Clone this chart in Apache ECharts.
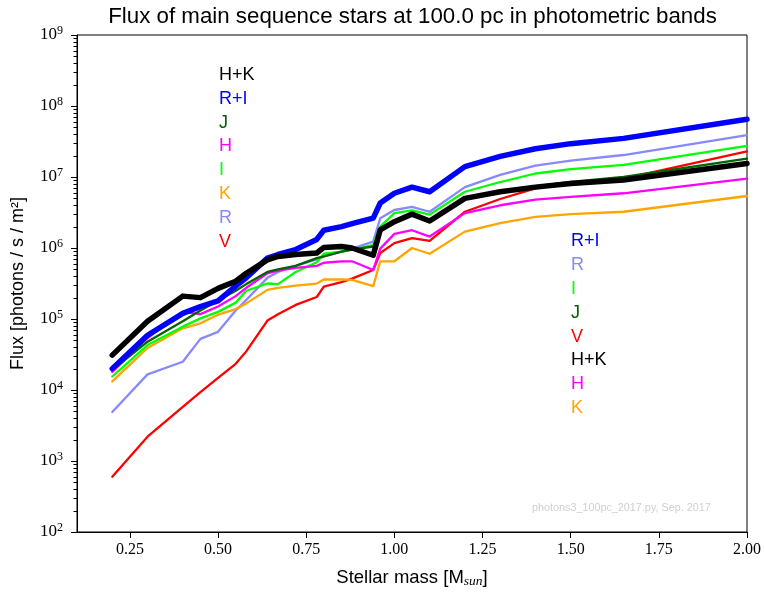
<!DOCTYPE html>
<html><head><meta charset="utf-8">
<script src="https://cdn.jsdelivr.net/npm/echarts@6/dist/echarts.min.js"></script>
<style>html,body{margin:0;padding:0;background:#fff}#c{width:764px;height:594px}</style>
</head><body><div id="c"></div>
<script>
// Stellar mass [M_sun]
const mass = [0.2, 0.3, 0.4, 0.45, 0.5, 0.55, 0.58, 0.64, 0.67, 0.72, 0.78, 0.8, 0.85, 0.88, 0.94, 0.96, 1.0, 1.05, 1.1, 1.2, 1.3, 1.4, 1.5, 1.65, 2.0];
// Flux [photons / s / m^2] per band
const fluxHK = [3.1e4, 9.3e4, 2.1e5, 2.0e5, 2.7e5, 3.4e5, 4.4e5, 6.8e5, 7.6e5, 8.1e5, 8.5e5, 1.02e6, 1.05e6, 1.0e6, 7.9e5, 1.8e6, 2.35e6, 3.0e6, 2.4e6, 5.0e6, 6.2e6, 7.2e6, 8.1e6, 9.1e6, 1.55e7];
const fluxRI = [2.0e4, 5.9e4, 1.2e5, 1.5e5, 1.8e5, 2.9e5, 3.8e5, 7.2e5, 8.1e5, 9.5e5, 1.32e6, 1.78e6, 2.0e6, 2.2e6, 2.63e6, 4.3e6, 5.9e6, 7.2e6, 6.2e6, 1.4e7, 1.95e7, 2.5e7, 2.95e7, 3.5e7, 6.5e7];
const fluxJ  = [1.9e4, 4.8e4, 9.3e4, 1.32e5, 1.82e5, 2.5e5, 3.1e5, 4.6e5, 5.0e5, 5.6e5, 7.2e5, 7.6e5, 8.9e5, 9.5e5, 1.05e6, 1.78e6, 2.34e6, 3.0e6, 2.4e6, 5.0e6, 6.3e6, 7.4e6, 8.5e6, 1.0e7, 1.82e7];
const fluxH  = [1.8e4, 5.4e4, 1.26e5, 1.17e5, 1.5e5, 2.1e5, 2.75e5, 4.4e5, 4.8e5, 5.25e5, 5.6e5, 6.2e5, 6.5e5, 6.5e5, 4.9e5, 9.8e5, 1.58e6, 1.78e6, 1.45e6, 3.1e6, 4.0e6, 4.8e6, 5.25e6, 5.9e6, 9.5e6];
const fluxI  = [1.55e4, 4.3e4, 7.8e4, 1.02e5, 1.26e5, 1.7e5, 2.5e5, 3.16e5, 3.1e5, 4.6e5, 6.3e5, 8.3e5, 8.9e5, 9.5e5, 1.1e6, 2.0e6, 3.1e6, 3.4e6, 2.95e6, 6.2e6, 8.5e6, 1.12e7, 1.29e7, 1.48e7, 2.75e7];
const fluxK  = [1.32e4, 3.9e4, 7.4e4, 8.7e4, 1.15e5, 1.38e5, 1.66e5, 2.57e5, 2.75e5, 2.95e5, 3.16e5, 3.6e5, 3.6e5, 3.55e5, 2.9e5, 6.5e5, 6.5e5, 1.0e6, 8.3e5, 1.7e6, 2.24e6, 2.75e6, 3.0e6, 3.24e6, 5.4e6];
const fluxR  = [4.9e3, 1.66e4, 2.5e4, 5.25e4, 6.6e4, 1.32e5, 1.86e5, 3.8e5, 4.6e5, 5.6e5, 6.9e5, 7.6e5, 8.9e5, 9.8e5, 1.23e6, 2.63e6, 3.43e6, 3.8e6, 3.24e6, 7.2e6, 1.07e7, 1.45e7, 1.7e7, 2.04e7, 3.9e7];
const fluxV  = [6.0e2, 2.2e3, 5.8e3, 9.3e3, 1.48e4, 2.34e4, 3.5e4, 9.5e4, 1.17e5, 1.58e5, 2.04e5, 2.85e5, 3.3e5, 3.7e5, 4.9e5, 8.5e5, 1.17e6, 1.38e6, 1.26e6, 3.24e6, 4.9e6, 6.9e6, 8.1e6, 9.5e6, 2.3e7];

const xTicks = [0.25, 0.5, 0.75, 1.0, 1.25, 1.5, 1.75, 2.0];
const yDecades = [1e2, 1e3, 1e4, 1e5, 1e6, 1e7, 1e8];
const yMinorMantissas = [2, 3, 4, 5, 6, 7, 8, 9];
const labelsLeft  = ['H+K', 'R+I', 'J', 'H', 'I', 'K', 'R', 'V'];
const labelsRight = ['R+I', 'R', 'I', 'J', 'V', 'H+K', 'H', 'K'];
const titleText = 'Flux of main sequence stars at 100.0 pc in photometric bands';
const footText = 'photons3_100pc_2017.py, Sep. 2017';

const bands = {
  'V':   {data: fluxV,  color: '#ff0000', w: 2.3},
  'R':   {data: fluxR,  color: '#8888ff', w: 2.3},
  'K':   {data: fluxK,  color: '#ffa500', w: 2.3},
  'I':   {data: fluxI,  color: '#00ff00', w: 2.3},
  'H':   {data: fluxH,  color: '#ff00ff', w: 2.3},
  'J':   {data: fluxJ,  color: '#006400', w: 2.3},
  'R+I': {data: fluxRI, color: '#0000ff', w: 5.5},
  'H+K': {data: fluxHK, color: '#000000', w: 5.5}
};
const drawOrder = ['V', 'R', 'K', 'I', 'H', 'J', 'R+I', 'H+K'];

const series = drawOrder.map(name => ({
  name: name,
  type: 'line',
  symbol: 'none',
  animation: false,
  data: mass.map((m, i) => [m, bands[name].data[i]]),
  lineStyle: {color: bands[name].color, width: bands[name].w, join: 'round', cap: 'round'},
  itemStyle: {color: bands[name].color}
}));

const SANS = '"Liberation Sans", Arial, Helvetica, sans-serif';
const SERIF = '"Liberation Serif", "Times New Roman", serif';

const graphics = [];
graphics.push({type: 'text', x: 412.5, y: 17, style: {text: titleText, font: '22.3px ' + SANS, fill: '#000', textAlign: 'center', textVerticalAlign: 'middle'}});
graphics.push({type: 'text', x: 532, y: 508, style: {text: footText, font: '10.8px ' + SANS, fill: '#cfcfcf', textAlign: 'left', textVerticalAlign: 'middle'}});
labelsLeft.forEach((n, i) => graphics.push({type: 'text', x: 219, y: 75 + i * 23.8, style: {text: n, font: '18px ' + SANS, fill: bands[n].color, textAlign: 'left', textVerticalAlign: 'middle'}}));
labelsRight.forEach((n, i) => graphics.push({type: 'text', x: 571, y: 241.5 + i * 23.8, style: {text: n, font: '18px ' + SANS, fill: bands[n].color, textAlign: 'left', textVerticalAlign: 'middle'}}));

const chart = echarts.init(document.getElementById('c'), null, {renderer: 'canvas'});
chart.setOption({
  animation: false,
  backgroundColor: '#fff',
  grid: {left: 77, right: 16, top: 35, bottom: 62, show: true, borderColor: '#000', borderWidth: 1, backgroundColor: 'transparent'},
  xAxis: {
    type: 'value', min: 0.1, max: 2.0,
    name: '{n|Stellar mass [M}{s|sun}{n|]}',
    nameLocation: 'middle', nameGap: 35,
    nameTextStyle: {rich: {
      n: {fontFamily: SANS, fontSize: 18.5, color: '#000'},
      s: {fontFamily: SERIF, fontStyle: 'italic', fontSize: 13.5, color: '#000', padding: [7, 0, 0, 0]}
    }},
    axisLine: {show: true, lineStyle: {color: '#000', width: 1}},
    axisTick: {show: true, customValues: xTicks, length: 6, inside: false, lineStyle: {color: '#000'}},
    axisLabel: {customValues: xTicks, formatter: v => v.toFixed(2), fontFamily: SERIF, fontSize: 16, color: '#000', margin: 10},
    splitLine: {show: false}
  },
  yAxis: {
    type: 'log', logBase: 10, min: 1e2, max: 1e9,
    name: 'Flux [photons / s / m²]',
    nameLocation: 'middle', nameGap: 50, nameRotate: 90,
    nameTextStyle: {fontFamily: SANS, fontSize: 18, color: '#000'},
    axisLine: {show: true, lineStyle: {color: '#000', width: 1}},
    axisTick: {show: true, length: 6, lineStyle: {color: '#000', width: 1}},
    axisLabel: {
      margin: 14, color: '#000',
      formatter: v => '{b|10}{s|' + Math.round(Math.log10(v)) + '}',
      rich: {
        b: {fontFamily: SERIF, fontSize: 17, color: '#000'},
        s: {fontFamily: SERIF, fontSize: 12, color: '#000', padding: [0, 0, 9, 0]}
      }
    },
    splitLine: {show: false}
  },
  series: series
});

// minor ticks of the log y axis, positioned through the axis scale
const axisX = chart.convertToPixel({gridIndex: 0}, [0.1, 1e2]);
const x0 = axisX ? Math.round(axisX[0]) : 77;
yDecades.forEach(d => yMinorMantissas.forEach(m => {
  const py = chart.convertToPixel({yAxisIndex: 0}, m * d);
  if (typeof py !== 'number' || !isFinite(py)) return;
  const y = Math.round(py) + 0.5;
  graphics.push({type: 'line', silent: true, z: 50, shape: {x1: x0 - 3.5, y1: y, x2: x0, y2: y}, style: {stroke: '#000', lineWidth: 1}});
}));
chart.setOption({graphic: graphics});
</script></body></html>
